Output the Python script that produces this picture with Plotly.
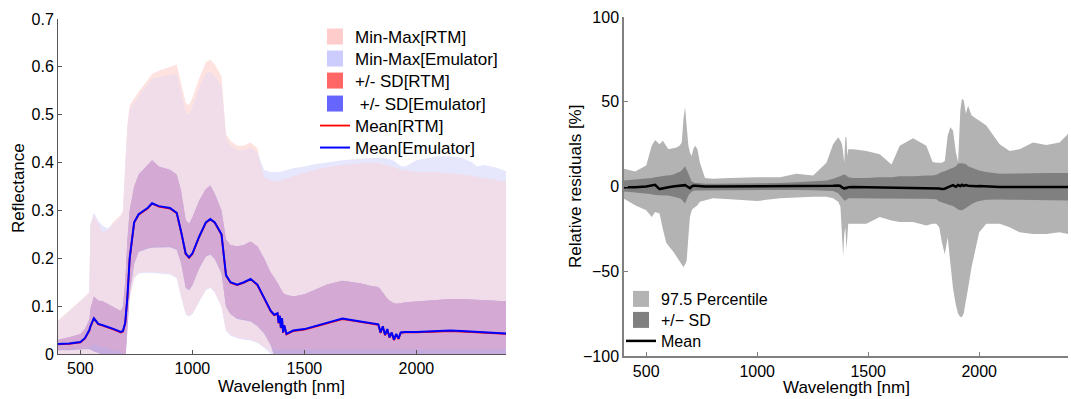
import numpy as np
import plotly.graph_objects as go

# ---------------- Left panel data (reflectance) ----------------
wl_L = [400, 450, 500, 520, 540, 545, 560, 580, 600, 620, 650, 680, 690, 700, 710,
        720, 740, 760, 800, 820, 850, 900, 930, 950, 970, 985, 1000, 1030, 1060, 1080,
        1100, 1130, 1150, 1170, 1200, 1230, 1260, 1290, 1320, 1350, 1365, 1380, 1385, 1390, 1395,
        1400, 1405, 1410, 1420, 1450, 1500, 1550, 1600, 1670, 1750, 1800, 1830, 1840, 1850, 1860,
        1870, 1880, 1890, 1900, 1910, 1920, 1930, 1950, 2000, 2100, 2150, 2200, 2250, 2270, 2300,
        2350, 2400]

mean_emulator = [0.021, 0.022, 0.025, 0.033, 0.050, 0.058, 0.075, 0.063, 0.060, 0.057, 0.052, 0.046, 0.048, 0.065, 0.120,
                 0.200, 0.275, 0.292, 0.305, 0.315, 0.309, 0.305, 0.295, 0.255, 0.210, 0.202, 0.210, 0.245, 0.275, 0.282,
                 0.275, 0.250, 0.165, 0.150, 0.145, 0.150, 0.157, 0.145, 0.118, 0.090, 0.082, 0.085, 0.065, 0.080, 0.055,
                 0.075, 0.045, 0.060, 0.042, 0.049, 0.052, 0.058, 0.065, 0.074, 0.068, 0.064, 0.062, 0.045, 0.058, 0.040,
                 0.052, 0.035, 0.045, 0.030, 0.042, 0.032, 0.045, 0.046, 0.046, 0.048, 0.049, 0.048, 0.047, 0.047, 0.046,
                 0.044, 0.043]
mean_rtm = [0.020, 0.021, 0.024, 0.032, 0.049, 0.057, 0.074, 0.062, 0.059, 0.056, 0.051, 0.045, 0.047, 0.064, 0.119,
            0.199, 0.274, 0.291, 0.304, 0.314, 0.308, 0.304, 0.294, 0.254, 0.209, 0.201, 0.209, 0.244, 0.274, 0.281,
            0.274, 0.249, 0.164, 0.149, 0.144, 0.149, 0.156, 0.144, 0.117, 0.089, 0.081, 0.084, 0.064, 0.079, 0.054,
            0.074, 0.044, 0.059, 0.041, 0.048, 0.051, 0.057, 0.064, 0.073, 0.067, 0.063, 0.061, 0.044, 0.057, 0.039,
            0.051, 0.034, 0.044, 0.029, 0.041, 0.031, 0.044, 0.045, 0.045, 0.047, 0.048, 0.047, 0.046, 0.046, 0.045,
            0.043, 0.042]
sd_upper = [0.030, 0.035, 0.042, 0.052, 0.072, 0.095, 0.120, 0.112, 0.110, 0.105, 0.097, 0.090, 0.100, 0.150, 0.240,
            0.300, 0.350, 0.375, 0.395, 0.405, 0.392, 0.385, 0.375, 0.340, 0.280, 0.272, 0.285, 0.320, 0.345, 0.352,
            0.335, 0.300, 0.240, 0.228, 0.225, 0.228, 0.235, 0.225, 0.200, 0.170, 0.160, 0.150, 0.145, 0.140, 0.135,
            0.130, 0.128, 0.126, 0.124, 0.120, 0.125, 0.135, 0.145, 0.153, 0.148, 0.142, 0.140, 0.135, 0.128, 0.122,
            0.116, 0.112, 0.108, 0.106, 0.105, 0.105, 0.106, 0.108, 0.110, 0.113, 0.115, 0.115, 0.114, 0.114, 0.113,
            0.112, 0.110]
sd_lower_rtm = [0.010, 0.010, 0.011, 0.012, 0.014, 0.016, 0.020, 0.016, 0.014, 0.012, 0.008, 0.005, 0.000, -0.010, 0.060,
                0.130, 0.190, 0.215, 0.222, 0.224, 0.224, 0.225, 0.220, 0.190, 0.140, 0.135, 0.145, 0.180, 0.205, 0.210,
                0.200, 0.170, 0.100, 0.085, 0.075, 0.072, 0.070, 0.060, 0.045, 0.020, 0.010, 0.010, 0.010, 0.010, 0.010,
                0.010, 0.010, 0.010, 0.010, 0.010, 0.010, 0.010, 0.010, 0.010, 0.010, 0.010, 0.010, 0.010, 0.010, 0.010,
                0.010, 0.010, 0.010, 0.010, 0.010, 0.010, 0.010, 0.010, 0.010, 0.010, 0.010, 0.010, 0.010, 0.010, 0.010,
                0.010, 0.010]
sd_lower_emulator = [0.008, 0.008, 0.009, 0.010, 0.010, 0.008, 0.005, 0.002, -0.005, -0.010, -0.010, -0.010, -0.010, -0.020, 0.055,
                     0.125, 0.188, 0.213, 0.220, 0.222, 0.222, 0.223, 0.218, 0.188, 0.138, 0.133, 0.143, 0.178, 0.203, 0.208,
                     0.198, 0.168, 0.098, 0.083, 0.073, 0.070, 0.068, 0.058, 0.043, 0.018, -0.005, -0.010, -0.010, -0.010, -0.010,
                     -0.010, -0.010, -0.010, -0.010, -0.010, -0.010, -0.010, -0.010, -0.010, -0.010, -0.010, -0.010, -0.010, -0.010, -0.010,
                     -0.010, -0.010, -0.010, -0.010, -0.010, -0.010, -0.010, -0.010, -0.010, -0.010, -0.010, -0.010, -0.010, -0.010, -0.010,
                     -0.010, -0.010]
max_rtm = [0.070, 0.090, 0.110, 0.120, 0.130, 0.270, 0.290, 0.272, 0.255, 0.258, 0.278, 0.290, 0.300, 0.400, 0.480,
           0.520, 0.535, 0.548, 0.572, 0.585, 0.592, 0.600, 0.605, 0.565, 0.525, 0.520, 0.535, 0.575, 0.610, 0.615,
           0.605, 0.580, 0.460, 0.445, 0.435, 0.435, 0.442, 0.430, 0.370, 0.362, 0.362, 0.360, 0.362, 0.362, 0.363,
           0.364, 0.364, 0.365, 0.366, 0.372, 0.378, 0.385, 0.390, 0.395, 0.398, 0.400, 0.399, 0.398, 0.397, 0.396,
           0.395, 0.393, 0.392, 0.390, 0.388, 0.386, 0.385, 0.384, 0.380, 0.380, 0.378, 0.375, 0.372, 0.370, 0.368,
           0.364, 0.360]
max_emulator = [0.068, 0.088, 0.108, 0.118, 0.128, 0.272, 0.295, 0.278, 0.268, 0.262, 0.272, 0.285, 0.295, 0.395, 0.470,
                0.510, 0.525, 0.538, 0.562, 0.575, 0.578, 0.582, 0.585, 0.545, 0.505, 0.500, 0.515, 0.555, 0.585, 0.590,
                0.580, 0.560, 0.450, 0.435, 0.425, 0.425, 0.432, 0.420, 0.385, 0.380, 0.380, 0.380, 0.381, 0.381, 0.381,
                0.382, 0.382, 0.383, 0.384, 0.388, 0.392, 0.397, 0.400, 0.405, 0.408, 0.410, 0.410, 0.410, 0.410, 0.409,
                0.408, 0.407, 0.406, 0.404, 0.400, 0.396, 0.393, 0.392, 0.405, 0.413, 0.413, 0.410, 0.400, 0.392, 0.395,
                0.390, 0.382]
min_rtm = [0.000, 0.000, 0.000, 0.000, 0.000, 0.000, 0.000, 0.000, 0.000, 0.000, 0.000, 0.000, 0.000, -0.010, 0.050,
           0.120, 0.160, 0.170, 0.172, 0.172, 0.170, 0.168, 0.160, 0.120, 0.085, 0.080, 0.085, 0.110, 0.135, 0.140,
           0.130, 0.100, 0.050, 0.040, 0.035, 0.032, 0.030, 0.025, 0.015, 0.005, 0.000, 0.000, 0.000, 0.000, 0.000,
           0.000, 0.000, 0.000, 0.000, 0.000, 0.000, 0.000, 0.000, 0.000, 0.000, 0.000, 0.000, 0.000, 0.000, 0.000,
           0.000, 0.000, 0.000, 0.000, 0.000, 0.000, 0.000, 0.000, 0.000, 0.000, 0.000, 0.000, 0.000, 0.000, 0.000,
           0.000, 0.000]
min_emulator = [-0.010, -0.010, -0.010, -0.010, -0.010, -0.010, -0.010, -0.010, -0.010, -0.010, -0.010, -0.010, -0.010, -0.020, 0.045,
                0.115, 0.158, 0.168, 0.170, 0.170, 0.168, 0.166, 0.158, 0.118, 0.083, 0.078, 0.083, 0.108, 0.133, 0.138,
                0.128, 0.098, 0.048, 0.038, 0.033, 0.030, 0.028, 0.023, 0.013, 0.000, -0.010, -0.010, -0.010, -0.010, -0.010,
                -0.010, -0.010, -0.010, -0.010, -0.010, -0.010, -0.010, -0.010, -0.010, -0.010, -0.010, -0.010, -0.010, -0.010, -0.010,
                -0.010, -0.010, -0.010, -0.010, -0.010, -0.010, -0.010, -0.010, -0.010, -0.010, -0.010, -0.010, -0.010, -0.010, -0.010,
                -0.010, -0.010]

# ---------------- Right panel data (relative residuals, %) ----------------
wl_R = [400, 450, 500, 525, 540, 560, 575, 590, 600, 620, 637, 650, 660, 668, 675,
        682, 690, 697, 705, 712, 720, 731, 742, 765, 800, 877, 952, 1000, 1102, 1177,
        1252, 1312, 1342, 1365, 1375, 1382, 1387, 1392, 1397, 1402, 1406, 1410, 1432, 1492, 1552,
        1605, 1642, 1702, 1762, 1790, 1807, 1820, 1832, 1845, 1858, 1870, 1882, 1895, 1905, 1915,
        1922, 1930, 1940, 1950, 1965, 1987, 2000, 2032, 2092, 2137, 2182, 2242, 2302, 2362, 2400]
pct_upper = [10.4, 8.8, 12.4, 24, 27.5, 25, 27, 24, 22, 22.5, 23, 24, 26, 40, 47,
             36, 24, 20, 18, 22, 24, 22, 14, 5, 4.5, 5, 5.5, 5.5, 5.5, 7.5,
             6.5, 14, 25, 29, 27, 25, 20, 14, 29, 29, 18, 22, 22, 21, 19,
             13, 24, 28.5, 24, 14.5, 14, 14, 14, 15, 30, 35, 33, 20, 14.5, 45,
             51.6, 51, 43, 47.7, 42, 40, 39, 36, 25, 21, 22, 26, 24.5, 26, 31]
pct_lower = [-7.3, -11, -14, -18, -15, -16, -25, -33, -35, -38, -42, -44, -46, -47.5, -46,
             -44, -30, -18, -14, -13, -12, -11, -9, -8, -7, -7.5, -8, -8.5, -7, -6.5,
             -6, -6, -7, -9, -12, -30, -41, -28, -24, -37, -30, -22, -22, -22, -18,
             -20, -21, -21, -23, -22, -22, -24, -33, -40, -30, -45, -60, -70, -75, -77,
             -77, -75, -68, -60, -48, -35, -27, -22, -22, -24, -27, -28, -28, -27, -28]
sd_res_upper = [3.5, 4, 4.5, 5, 5.5, 6, 6.5, 6.5, 6.5, 7, 8, 8.5, 9.4, 11, 12,
                10, 7.5, 5, 3, 2.5, 2, 2, 1.8, 1.6, 1.6, 1.6, 1.6, 1.6, 2, 2.5,
                3, 3.5, 4.5, 5.5, 6, 6.5, 7, 7, 7, 6.5, 6, 5.5, 5, 5, 5.5,
                5.5, 6, 6, 6.5, 6.5, 7, 8, 8.5, 9, 10, 10.5, 11, 12, 13.5, 13.7,
                13.7, 13.5, 13.3, 12, 11, 10, 9.4, 8.5, 7.5, 7.5, 7.5, 7.8, 8, 8, 8]
sd_res_lower = [-3, -3.5, -4.3, -4.5, -5, -5, -5.3, -5.3, -5.3, -6, -6.5, -7, -7.6, -9, -10,
                -8.5, -5.3, -4, -3, -2.5, -2.4, -2.2, -2, -2, -2, -2, -2, -2, -2, -2,
                -2.2, -2.4, -2.6, -4, -5.5, -6.3, -7.5, -8.2, -8.2, -8, -7.5, -7, -7, -7.3, -7.3,
                -7.3, -7.3, -7.3, -7.3, -7.3, -7.5, -8.8, -9.5, -10, -10.5, -11, -11.5, -12.5, -13.5, -14,
                -14, -13.5, -12.5, -12, -10.5, -9, -8.5, -7.8, -7.6, -7.8, -8, -8.2, -8.2, -8.2, -8.2]
mean_res = [-0.5, -0.5, 0, 0.5, 1, -1.5, -1, -0.8, -0.5, 0, 0.3, 0.5, 0.8, 1, 0.8,
            0.3, -0.5, -1, 0, 0.5, 0.5, 0.3, 0, 0, 0, 0, 0, 0, 0, 0,
            0, 0.2, 0.4, 0.6, 0.3, -0.5, -1, -1.2, -0.8, -1, -0.6, -0.4, -0.3, -0.4, -0.5,
            -0.8, -0.7, -0.6, -0.7, -0.8, -1, -1.2, -1.5, -1.3, -0.5, 0.3, 0.8, -0.2, 0.9, 0.2,
            1, 0.4, 0.8, 0.5, 0.3, 0.2, 0.3, 0, -0.3, -0.3, -0.3, -0.3, -0.3, -0.3, -0.3]

FONT = "Liberation Sans, Arial, Helvetica, sans-serif"
W, H = 1071, 399


def band(x, upper, lower):
    xs = list(x) + list(x)[::-1]
    ys = list(upper) + list(lower)[::-1]
    return xs, ys


fig = go.Figure()

# Left panel bands
inter_upper = np.minimum(max_rtm, max_emulator)
inter_lower = np.maximum(min_rtm, min_emulator)
layers = [
    (max_rtm, min_rtm, "#fde2e0"),
    (max_emulator, min_emulator, "#e6e6fc"),
    (inter_upper, inter_lower, "#f1dde9"),
    (sd_upper, sd_lower_emulator, "#c6acde"),
    (sd_upper, sd_lower_rtm, "#d4aad4"),
]
for up, lo, col in layers:
    xs, ys = band(wl_L, up, lo)
    fig.add_trace(go.Scatter(x=xs, y=ys, fill="toself", fillcolor=col, mode="lines",
                             line=dict(width=0, color=col), hoverinfo="skip",
                             showlegend=False, xaxis="x", yaxis="y"))

legends = {}
# left legend rows (one legend box per row for exact spacing)
left_rows = [37, 59, 81, 104, 126, 148]
right_rows = [299, 320, 341]
for i, yc in enumerate(left_rows):
    legends["legend" if i == 0 else f"legend{i + 1}"] = dict(
        x=315 / W, y=1 - yc / H, xanchor="left", yanchor="middle",
        bgcolor="rgba(0,0,0,0)", font=dict(family="Liberation Sans, Arial", size=17, color="#000000"))
for j, yc in enumerate(right_rows):
    legends[f"legend{7 + j}"] = dict(
        x=621 / W, y=1 - yc / H, xanchor="left", yanchor="middle",
        bgcolor="rgba(0,0,0,0)", font=dict(family="Liberation Sans, Arial", size=16, color="#000000"))
left_legend_ids = ["legend", "legend2", "legend3", "legend4", "legend5", "legend6"]

# Legend entries for the left panel
for k, (name, col) in enumerate([("Min-Max[RTM]", "#ffcccc"), ("Min-Max[Emulator]", "#ccccff"),
                                 ("+/- SD[RTM]", "#ff6666"), ("\u00a0+/- SD[Emulator]", "#6666ff")]):
    fig.add_trace(go.Scatter(x=[None], y=[None], mode="markers", name=name,
                             marker=dict(symbol="square", size=18, color=col),
                             legend=left_legend_ids[k], xaxis="x", yaxis="y"))

fig.add_trace(go.Scatter(x=wl_L, y=mean_rtm, mode="lines", name="Mean[RTM]",
                         line=dict(color="#ff0000", width=1.8), legend="legend5",
                         xaxis="x", yaxis="y"))
fig.add_trace(go.Scatter(x=wl_L, y=mean_emulator, mode="lines", name="Mean[Emulator]",
                         line=dict(color="#0000ff", width=2), legend="legend6",
                         xaxis="x", yaxis="y"))

# Right panel
xs, ys = band(wl_R, pct_upper, pct_lower)
fig.add_trace(go.Scatter(x=xs, y=ys, fill="toself", fillcolor="#b3b3b3", mode="lines",
                         line=dict(width=0, color="#b3b3b3"), showlegend=False,
                         hoverinfo="skip", xaxis="x2", yaxis="y2"))
xs, ys = band(wl_R, sd_res_upper, sd_res_lower)
fig.add_trace(go.Scatter(x=xs, y=ys, fill="toself", fillcolor="#808080", mode="lines",
                         line=dict(width=0, color="#808080"), showlegend=False,
                         hoverinfo="skip", xaxis="x2", yaxis="y2"))
for k, (name, col) in enumerate([("97.5 Percentile", "#b3b3b3"), ("+/\u2212 SD", "#808080")]):
    fig.add_trace(go.Scatter(x=[None], y=[None], mode="markers", name=name,
                             marker=dict(symbol="square", size=18, color=col),
                             legend=f"legend{7 + k}", xaxis="x2", yaxis="y2"))
fig.add_trace(go.Scatter(x=wl_R, y=mean_res, mode="lines", name="Mean",
                         line=dict(color="#000000", width=2.5), legend="legend9",
                         xaxis="x2", yaxis="y2"))

axis_common = dict(showgrid=False, zeroline=False, showline=True, ticks="inside",
                   ticklen=4, mirror=False, automargin=False,
                   tickfont=dict(family=FONT, size=16, color="#000000"))

fig.update_layout(
    width=W, height=H,
    margin=dict(l=0, r=0, t=0, b=0, autoexpand=False),
    template="none",
    paper_bgcolor="white", plot_bgcolor="white",
    font=dict(family=FONT, size=16, color="#000000"),
    xaxis=dict(domain=[58 / W, 506 / W], range=[400, 2400], anchor="y",
               tickvals=[500, 1000, 1500, 2000], linecolor="#555555", tickcolor="#555555",
               linewidth=1, **axis_common),
    yaxis=dict(domain=[45 / H, 380 / H], range=[0, 0.7], anchor="x",
               tickvals=[0, 0.1, 0.2, 0.3, 0.4, 0.5, 0.6, 0.7],
               linecolor="#555555", tickcolor="#555555", linewidth=1, **axis_common),
    xaxis2=dict(domain=[624 / W, 1068 / W], range=[400, 2400], anchor="y2",
                tickvals=[500, 1000, 1500, 2000], linecolor="#808080", tickcolor="#808080",
                linewidth=1.5, **axis_common),
    yaxis2=dict(domain=[43 / H, 382 / H], range=[-100, 100], anchor="x2",
                tickvals=[-100, -50, 0, 50, 100], linecolor="#808080", tickcolor="#808080",
                linewidth=1.5, **axis_common),
    annotations=[
        dict(text="Wavelength [nm]", x=281 / W, y=1 - 386 / H, xref="paper", yref="paper",
             showarrow=False, font=dict(size=17), xanchor="center", yanchor="middle"),
        dict(text="Reflectance", x=18 / W, y=1 - 188 / H, xref="paper", yref="paper",
             showarrow=False, font=dict(size=17), textangle=-90, xanchor="center", yanchor="middle"),
        dict(text="Wavelength [nm]", x=846 / W, y=1 - 387 / H, xref="paper", yref="paper",
             showarrow=False, font=dict(size=17), xanchor="center", yanchor="middle"),
        dict(text="Relative residuals [%]", x=575 / W, y=1 - 187 / H, xref="paper", yref="paper",
             showarrow=False, font=dict(size=17), textangle=-90, xanchor="center", yanchor="middle"),
    ],
)
fig.update_layout(**legends)

fig.write_html("out.html")
